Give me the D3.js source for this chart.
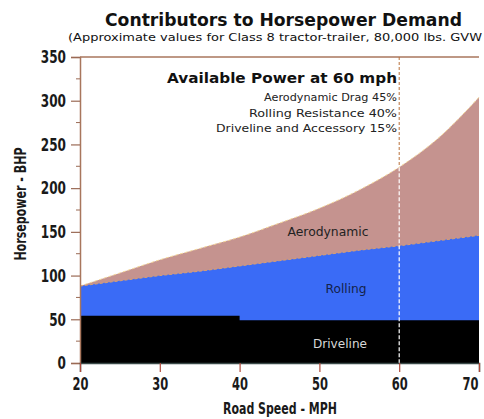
<!DOCTYPE html>
<html><head><meta charset="utf-8">
<script src="https://cdn.jsdelivr.net/npm/d3@7"></script>
<style>
html,body{margin:0;padding:0;background:#fff;}
svg{display:block;}
</style></head>
<body>
<svg id="chart" width="484" height="419"></svg>
<script>
// ---- data ----
const speeds      = [20, 25, 30, 35, 40, 45, 50, 55, 60, 65, 70];
const driveline   = [54, 54, 54, 54, 49, 49, 49, 49, 49, 49, 49];
const rolling     = [34, 40, 46, 51, 62, 68, 74, 80, 85, 91, 97];
const aerodynamic = [0, 9, 18, 26, 33, 43, 54, 69, 90, 118, 158];
const xTicks = [20, 30, 40, 50, 60, 70];
const yTicks = [0, 50, 100, 150, 200, 250, 300, 350];
const yMinorTicks = [25, 75, 125, 175, 225, 275, 325];
const markSpeed = 60;
const annotationLines = ["Aerodynamic Drag 45%", "Rolling Resistance 40%", "Driveline and Accessory 15%"];

const rows = speeds.map((s, i) => ({speed: s, driveline: driveline[i], rolling: rolling[i], aerodynamic: aerodynamic[i]}));
const stack = d3.stack().keys(["driveline", "rolling", "aerodynamic"]);
const series = stack(rows);

const svg = d3.select("#chart");
const x = d3.scaleLinear().domain([20, 70]).range([80, 479]);
const y = d3.scaleLinear().domain([0, 350]).range([363, 57]);

const narrow = "'Liberation Sans Narrow','DejaVu Sans Condensed','Arial Narrow','DejaVu Sans',sans-serif";
const pix = "'DejaVu Sans',Verdana,sans-serif";

// frame top line
svg.append("line").attr("x1", x(20)).attr("x2", x(70)).attr("y1", y(350)).attr("y2", y(350))
  .attr("stroke", "#a8765c").attr("stroke-width", 1.5);

// areas (each from 0 to cumulative top, drawn back to front)
const colors = {aerodynamic: "#c5938f", rolling: "#3a6bf6", driveline: "#000000"};
const curves = {aerodynamic: d3.curveMonotoneX, rolling: d3.curveLinear, driveline: d3.curveStepAfter};
[2, 1, 0].forEach(k => {
  const s = series[k];
  const area = d3.area()
    .x((d, i) => x(speeds[i]))
    .y0(() => y(0))
    .y1(d => y(d[1]))
    .curve(curves[s.key]);
  svg.append("path").datum(s).attr("d", area).attr("fill", colors[s.key]);
});
// subtle dashed top edges
[2, 1].forEach(k => {
  const s = series[k];
  const line = d3.line().x((d, i) => x(speeds[i])).y(d => y(d[1])).curve(curves[s.key]);
  svg.append("path").datum(s).attr("d", line).attr("fill", "none")
    .attr("stroke", k === 2 ? "#f3d79a" : "#d9a070").attr("stroke-width", 1)
    .attr("stroke-dasharray", "3,2");
});

// 60 mph marker
const mi = speeds.indexOf(markSpeed);
const topAt60 = series[2][mi][1];
svg.append("line").attr("x1", x(markSpeed)).attr("x2", x(markSpeed)).attr("y1", y(350)).attr("y2", y(topAt60))
  .attr("stroke", "#b8703a").attr("stroke-width", 1).attr("stroke-dasharray", "3,2");
svg.append("line").attr("x1", x(markSpeed)).attr("x2", x(markSpeed)).attr("y1", y(topAt60)).attr("y2", y(0))
  .attr("stroke", "#ffffff").attr("stroke-width", 1.2).attr("stroke-dasharray", "4,2");

// axes
const yAxis = d3.axisLeft(y).tickValues(yTicks).tickSize(9).tickPadding(5).tickFormat(d3.format("d"));
const gy = svg.append("g").attr("transform", `translate(${x(20)},0)`).call(yAxis);
gy.select(".domain").attr("stroke", "#a8765c").attr("stroke-width", 1.5);
gy.selectAll(".tick line").attr("stroke", "#9a6a55").attr("stroke-width", 1.2);
gy.selectAll(".tick text").attr("font-family", narrow).attr("font-weight", "bold")
  .attr("font-size", 18).attr("fill", "#1a1a1a")
  .attr("textLength", d => String(d).length * 8.4).attr("lengthAdjust", "spacingAndGlyphs");
svg.append("g").selectAll("line").data(yMinorTicks).join("line")
  .attr("x1", x(20) - 4).attr("x2", x(20)).attr("y1", d => y(d)).attr("y2", d => y(d))
  .attr("stroke", "#9a6a55").attr("stroke-width", 1);

const xAxis = d3.axisBottom(x).tickValues(xTicks).tickSize(9).tickPadding(6).tickFormat(d3.format("d"));
const gx = svg.append("g").attr("transform", `translate(0,${y(0)})`).call(xAxis);
gx.select(".domain").attr("stroke", "#3a4a48").attr("stroke-width", 1.5);
gx.selectAll(".tick line").attr("stroke", "#b04a3a").attr("stroke-width", 1.2);
gx.selectAll(".tick text").attr("font-family", narrow).attr("font-weight", "bold")
  .attr("font-size", 17).attr("fill", "#1a1a1a")
  .attr("textLength", d => String(d).length * 8).attr("lengthAdjust", "spacingAndGlyphs")
  .attr("dx", d => d === 70 ? -9 : 0);

// axis titles
svg.append("text").attr("x", 280).attr("y", 414).attr("text-anchor", "middle")
  .attr("textLength", 114).attr("lengthAdjust", "spacingAndGlyphs")
  .attr("font-family", narrow).attr("font-weight", "bold").attr("font-size", 16).attr("fill", "#1a1a1a")
  .text("Road Speed - MPH");
svg.append("text").attr("transform", "translate(26,204) rotate(-90)").attr("text-anchor", "middle")
  .attr("textLength", 113).attr("lengthAdjust", "spacingAndGlyphs")
  .attr("font-family", narrow).attr("font-weight", "bold").attr("font-size", 15).attr("fill", "#1a1a1a")
  .text("Horsepower - BHP");

// title
svg.append("text").attr("x", 105).attr("y", 26).attr("textLength", 357).attr("lengthAdjust", "spacingAndGlyphs")
  .attr("font-family", pix).attr("font-weight", "bold").attr("font-size", 18).attr("fill", "#111")
  .text("Contributors to Horsepower Demand");
svg.append("text").attr("x", 68).attr("y", 41).attr("textLength", 414).attr("lengthAdjust", "spacingAndGlyphs")
  .attr("font-family", pix).attr("font-size", 10.5).attr("fill", "#111")
  .text("(Approximate values for Class 8 tractor-trailer, 80,000 lbs. GVW");

// annotation
svg.append("text").attr("x", 397).attr("y", 83).attr("text-anchor", "end")
  .attr("textLength", 230).attr("lengthAdjust", "spacingAndGlyphs")
  .attr("font-family", pix).attr("font-weight", "bold").attr("font-size", 14).attr("fill", "#111")
  .text("Available Power at 60 mph");
const annW = [133, 148, 181];
annotationLines.forEach((t, i) => {
  svg.append("text").attr("x", 397).attr("y", 101 + i * 15.5).attr("text-anchor", "end")
    .attr("textLength", annW[i]).attr("lengthAdjust", "spacingAndGlyphs")
    .attr("font-family", pix).attr("font-size", 11).attr("fill", "#222").text(t);
});

// area labels
const areaLabels = [
  {text: "Aerodynamic", x: 328, y: 236, w: 81, fill: "#222"},
  {text: "Rolling", x: 346, y: 293, w: 41, fill: "#14224a"},
  {text: "Driveline", x: 340, y: 348, w: 54, fill: "#d8d8d8"}
];
areaLabels.forEach(l => {
  svg.append("text").attr("x", l.x).attr("y", l.y).attr("text-anchor", "middle")
    .attr("textLength", l.w).attr("lengthAdjust", "spacingAndGlyphs")
    .attr("font-family", pix).attr("font-size", 12).attr("fill", l.fill).text(l.text);
});
</script>
</body></html>
